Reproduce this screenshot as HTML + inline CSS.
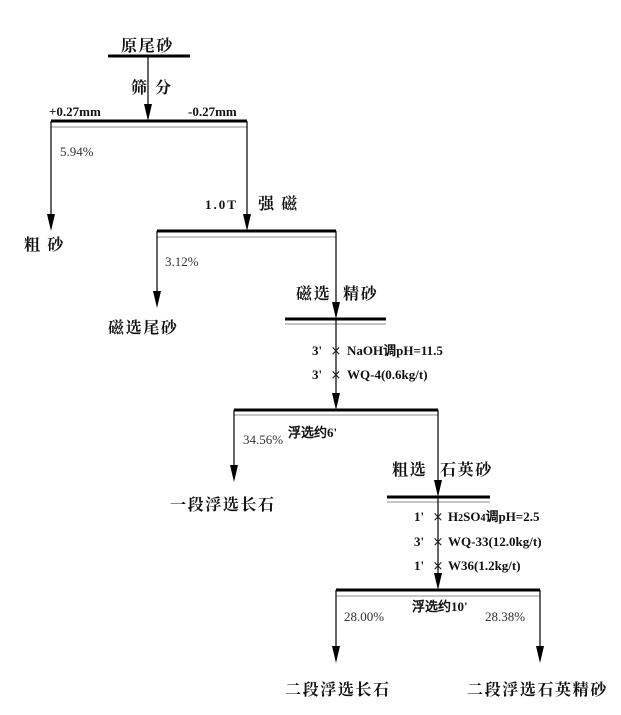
<!DOCTYPE html>
<html><head><meta charset="utf-8"><style>
html,body{margin:0;padding:0;background:#fff;}
svg{display:block;}
.c{font-family:"Liberation Serif","Noto Serif CJK SC",serif;font-size:16px;letter-spacing:1.6px;font-weight:bold;fill:#111;}
.b{font-family:"Liberation Serif",serif;font-size:13px;font-weight:bold;fill:#111;}
.p{font-family:"Liberation Serif",serif;font-size:13px;fill:#333;}
</style></head><body>
<svg width="621" height="715" viewBox="0 0 621 715" xmlns="http://www.w3.org/2000/svg">
<g stroke="#000" fill="none">
<line x1="108" y1="56" x2="190" y2="56" stroke-width="3"/>
<line x1="148" y1="56" x2="148" y2="110" stroke-width="1.2"/>
<line x1="51" y1="121" x2="247" y2="121" stroke-width="3"/>
<line x1="51" y1="127" x2="247" y2="127" stroke-width="0.8" stroke="#666"/>
<line x1="51" y1="121" x2="51" y2="220" stroke-width="1.2"/>
<line x1="247" y1="121" x2="247" y2="220" stroke-width="1.2"/>
<line x1="157" y1="231" x2="336" y2="231" stroke-width="3"/>
<line x1="157" y1="237" x2="336" y2="237" stroke-width="0.8" stroke="#666"/>
<line x1="157" y1="231" x2="157" y2="297" stroke-width="1.2"/>
<line x1="336" y1="231" x2="336" y2="308" stroke-width="1.2"/>
<line x1="285" y1="319" x2="386" y2="319" stroke-width="3"/>
<line x1="285" y1="324" x2="386" y2="324" stroke-width="0.8" stroke="#666"/>
<line x1="336" y1="319" x2="336" y2="399" stroke-width="1.2"/>
<line x1="234" y1="410" x2="438" y2="410" stroke-width="3"/>
<line x1="234" y1="415" x2="438" y2="415" stroke-width="0.8" stroke="#666"/>
<line x1="234" y1="410" x2="234" y2="470" stroke-width="1.2"/>
<line x1="438" y1="410" x2="438" y2="486" stroke-width="1.2"/>
<line x1="387" y1="497" x2="490" y2="497" stroke-width="3"/>
<line x1="387" y1="502" x2="490" y2="502" stroke-width="0.8" stroke="#666"/>
<line x1="438" y1="497" x2="438" y2="579" stroke-width="1.2"/>
<line x1="336" y1="590" x2="540" y2="590" stroke-width="3"/>
<line x1="336" y1="596" x2="540" y2="596" stroke-width="0.8" stroke="#666"/>
<line x1="336" y1="590" x2="336" y2="652" stroke-width="1.2"/>
<line x1="540" y1="590" x2="540" y2="652" stroke-width="1.2"/>
</g>
<g fill="#000">
<polygon points="144,104 152,104 148,121"/>
<polygon points="47,214 55,214 51,231"/>
<polygon points="243,214 251,214 247,231"/>
<polygon points="153,291 161,291 157,308"/>
<polygon points="332,302 340,302 336,319"/>
<polygon points="332,393 340,393 336,410"/>
<polygon points="230,465 238,465 234,482"/>
<polygon points="434,480 442,480 438,497"/>
<polygon points="434,573 442,573 438,590"/>
<polygon points="332,646 340,646 336,663"/>
<polygon points="536,646 544,646 540,663"/>
</g>
<g font-family="DejaVu Sans" font-size="13" fill="#222" text-anchor="middle">
<text x="336" y="355">×</text><text x="336" y="379">×</text>
<text x="438" y="521">×</text><text x="438" y="546">×</text><text x="438" y="570">×</text>
</g>
<text class="c" x="121" y="51">原尾砂</text>
<text class="c" x="131" y="93">筛</text><text class="c" x="155" y="93">分</text>
<text class="b" x="49" y="116">+0.27mm</text>
<text class="b" x="188" y="116">-0.27mm</text>
<text class="p" x="60" y="156">5.94%</text>
<text class="c" x="24" y="250">粗 砂</text>
<text class="b" x="205" y="209" letter-spacing="2">1.0T</text>
<text class="c" x="258" y="209">强 磁</text>
<text class="p" x="165" y="266">3.12%</text>
<text class="c" x="108" y="333">磁选尾砂</text>
<text class="c" x="296" y="299">磁选</text><text class="c" x="343" y="299">精砂</text>
<text class="b" x="312" y="355">3'</text><text class="b" x="347" y="355">NaOH调pH=11.5</text>
<text class="b" x="312" y="379">3'</text><text class="b" x="347" y="379">WQ-4(0.6kg/t)</text>
<text class="b" x="288" y="437" font-size="12">浮选约6'</text>
<text class="p" x="243" y="444">34.56%</text>
<text class="c" x="170" y="510">一段浮选长石</text>
<text class="c" x="392" y="475">粗选</text><text class="c" x="440" y="475">石英砂</text>
<text class="b" x="414" y="521">1'</text><text class="b" x="448" y="521">H<tspan font-size="10">2</tspan>SO<tspan font-size="10">4</tspan>调pH=2.5</text>
<text class="b" x="414" y="546">3'</text><text class="b" x="448" y="546">WQ-33(12.0kg/t)</text>
<text class="b" x="414" y="570">1'</text><text class="b" x="448" y="570">W36(1.2kg/t)</text>
<text class="b" x="412" y="611" font-size="12">浮选约10'</text>
<text class="p" x="344" y="621">28.00%</text>
<text class="p" x="485" y="621">28.38%</text>
<text class="c" x="285" y="695">二段浮选长石</text>
<text class="c" x="467" y="695">二段浮选石英精砂</text>
</svg>
</body></html>
